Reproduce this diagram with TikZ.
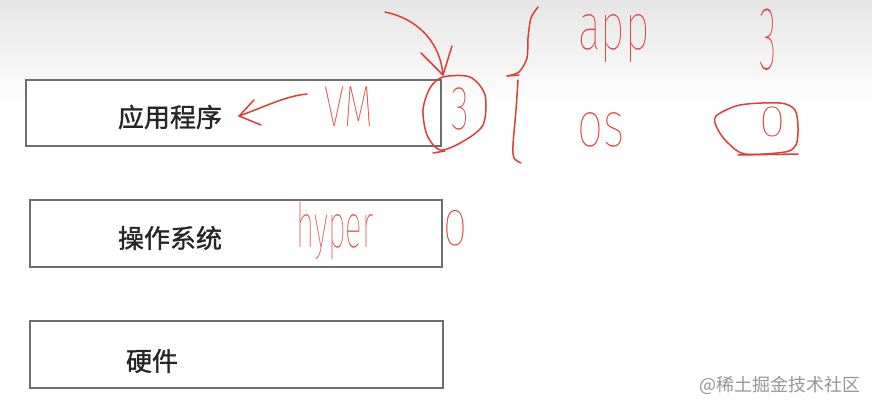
\documentclass[tikz,border=0pt]{standalone}
\usepackage{fontspec}
\newfontfamily\cjk{Noto Sans CJK SC}
\newfontfamily\cjkb{Noto Sans CJK SC}[FakeBold=1.2]
\newfontfamily\hand{Fira Sans Thin}
\definecolor{handred}{RGB}{222,62,52}
\definecolor{boxgray}{RGB}{110,110,110}
\definecolor{wmgray}{RGB}{150,150,150}
\tikzset{
  layerbox/.style={draw=boxgray, line width=1.8pt, fill=white, inner sep=0pt},
  boxlabel/.style={inner sep=0pt, font=\cjkb\fontsize{26}{26}\selectfont, text=black!85},
  handline/.style={draw=handred, line width=1.5pt, line cap=round, line join=round},
  handtxt/.style={inner sep=0pt, text=handred},
}
\begin{document}
\begin{tikzpicture}[x=1pt,y=-1pt]
\useasboundingbox (0,0) rectangle (872,414);
\fill[white] (0,0) rectangle (872,414);
\shade[top color=gray!20, bottom color=white] (0,0) rectangle (872,105);

% layers
\node[layerbox, minimum width=415pt, minimum height=66pt] (appbox) at (233.5,113) {};
\node[layerbox, minimum width=412pt, minimum height=67pt] (osbox) at (236,233.5) {};
\node[layerbox, minimum width=413pt, minimum height=67pt] (hwbox) at (236.5,354.5) {};
\node[boxlabel] (applbl) at (170,117) {应用程序};
\node[boxlabel] (oslbl) at (170,238) {操作系统};
\node[boxlabel] (hwlbl) at (152,361) {硬件};

% handwritten notes
\node[handtxt, font=\hand\fontsize{58}{58}\selectfont, xscale=.65] (vm) at (349,107) {VM};
\node[handtxt, font=\hand\fontsize{62}{62}\selectfont, xscale=.6] (three) at (460,109) {3};
\node[handtxt, font=\hand\fontsize{62}{62}\selectfont, xscale=.5, anchor=base] (hyper) at (335,247) {hyper};
\node[handtxt, font=\hand\fontsize{52}{52}\selectfont, xscale=.85] (zero) at (455,228) {0};
\node[handtxt, font=\hand\fontsize{66}{66}\selectfont, xscale=.65, anchor=base] (appw) at (614,50) {app};
\node[handtxt, font=\hand\fontsize{64}{64}\selectfont, xscale=.72, anchor=base] (osw) at (601,147) {os};
\node[handtxt, font=\hand\fontsize{90}{90}\selectfont, xscale=.4] (threeR) at (768,40) {3};
\node[handtxt, font=\hand\fontsize{44}{44}\selectfont, xscale=1.1] (zeroR) at (773,122) {0};

% curved arrow into the circled 3
\coordinate (a0) at (385,12);
\coordinate (a1) at (443,75);
\draw[handline] (a0) .. controls (415,18) and (440,40) .. (a1);
\draw[handline] (421,53) -- (a1) -- (452,46);

% arrow from VM to the application
\coordinate (l0) at (307,94);
\coordinate (l1) at (239,116);
\draw[handline] (l0) .. controls (285,96) and (262,108) .. (l1);
\draw[handline] (254,100) -- (l1) -- (261,125);

% circle around 3
\draw[handline] plot[smooth cycle] coordinates {(443,77) (470,77) (485,95) (483,125) (462,142) (440,150) (427,135) (423,110) (430,88)};
\draw[handline] (433,153) -- (445,151);

% brace
\draw[handline] plot[smooth] coordinates {(538,7) (531,18) (528,38) (527,58) (519,72) (507,76)};
\draw[handline] (507,76) -- (519,75);
\draw[handline] plot[smooth] coordinates {(518,80) (516,110) (513,145) (514,158) (521,163)};

% circle around right 0
\draw[handline] plot[smooth cycle] coordinates {(716,116) (740,105) (780,103) (795,110) (798,128) (796,145) (785,152) (745,154) (727,142) (717,128)};
\draw[handline] (738,155) -- (798,154);

% watermark
\node[inner sep=0pt, text=wmgray, font=\cjk\fontsize{18}{18}\selectfont] (wm) at (780,385) {@稀土掘金技术社区};
\end{tikzpicture}
\end{document}
